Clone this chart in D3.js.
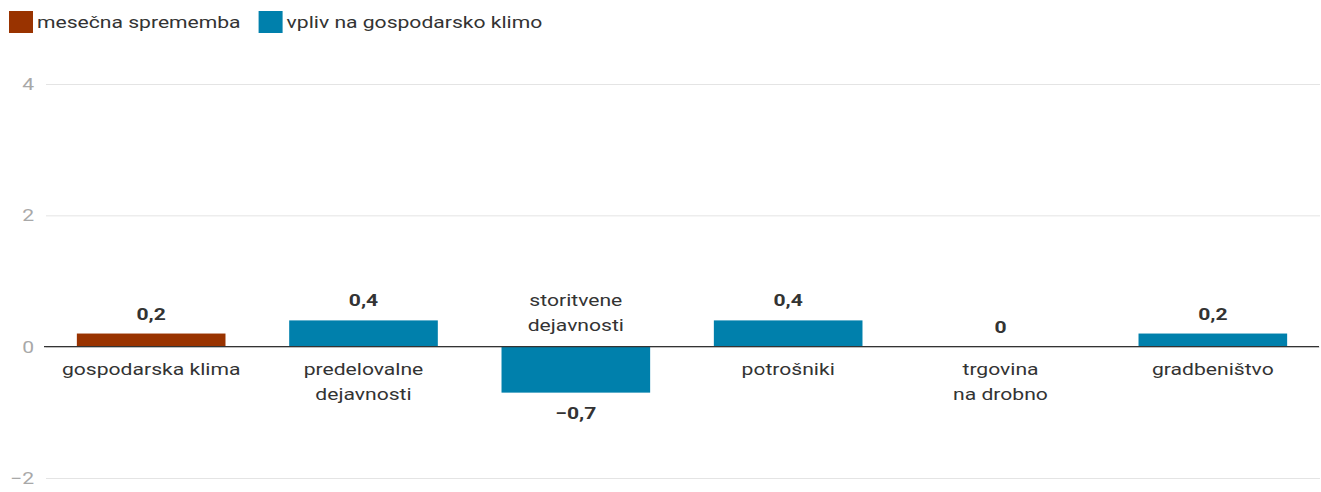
<!DOCTYPE html>
<html><head><meta charset="utf-8">
<script src="https://cdn.jsdelivr.net/npm/d3@7"></script>
<style>
body{margin:0;background:#fff;font-family:Roboto,"Noto Sans",sans-serif;}
svg{display:block;}
</style></head><body>
<svg id="c" width="1321" height="492"></svg>
<script>
const categories = [["gospodarska klima"],["predelovalne","dejavnosti"],["storitvene","dejavnosti"],["potrošniki"],["trgovina","na drobno"],["gradbeništvo"]];
const values = [0.2, 0.4, -0.7, 0.4, 0, 0.2];
const series = ["mesečna sprememba","vpliv na gospodarsko klimo"];
const seriesOf = [0,1,1,1,1,1];
const colors = ["#993300","#0080ac"];
const yTicks = [-2, 0, 2, 4];
const SX = 1.32; // horizontal text stretch seen in the reference

const svg = d3.select("#c");
const x = d3.scaleBand().domain(d3.range(values.length)).range([45,1319]).paddingInner(0.3).paddingOuter(0.15);
const y = d3.scaleLinear().domain([-2,4]).range([478,84]);
const fmt = v => v === 0 ? "0" : (v < 0 ? "\u2212" : "") + Math.abs(v).toFixed(1).replace(".", ",");

function stretchedText(parent, px, py, str, anchor, opts) {
  const g = parent.append("g").attr("transform", `translate(${px},${py}) scale(${SX},1)`);
  const t = g.append("text").attr("text-anchor", anchor).attr("fill", opts.fill || "#333")
    .style("font-size", (opts.size || 16) + "px").style("font-weight", opts.weight || "normal").text(str);
  return t;
}

// gridlines
const gy = svg.append("g").attr("transform","translate(46,0)")
  .call(d3.axisLeft(y).tickValues(yTicks).tickSize(-1274).tickFormat(""));
gy.select(".domain").remove();
gy.selectAll(".tick line").attr("stroke","#e4e4e4");
const tl = svg.append("g");
yTicks.forEach(v => stretchedText(tl, 34, y(v) + 6, v < 0 ? "\u2212" + Math.abs(v) : String(v), "end", {fill:"#a8a8a8", size:16}));

// bars
svg.append("g").selectAll("rect").data(values).join("rect")
  .attr("x",(d,i)=>x(i)).attr("width",x.bandwidth())
  .attr("y",d=>y(Math.max(0,d))).attr("height",d=>Math.abs(y(d)-y(0)))
  .attr("fill",(d,i)=>colors[seriesOf[i]]);

// zero line
svg.append("line").attr("x1",44).attr("x2",1319).attr("y1",y(0)).attr("y2",y(0))
  .attr("stroke","#333").attr("stroke-width",1.3);

// value labels
const vl = svg.append("g");
values.forEach((d,i) => stretchedText(vl, x(i)+x.bandwidth()/2, d<0 ? y(d)+26 : y(d)-14, fmt(d), "middle", {weight:"bold", size:16}));

// category labels
const cl = svg.append("g");
categories.forEach((lines,i) => {
  const base = values[i] < 0 ? y(0) - 41 : y(0) + 28;
  lines.forEach((s,j) => stretchedText(cl, x(i)+x.bandwidth()/2, base + j*25, s, "middle", {size:16}));
});

// legend
const leg = svg.append("g").attr("transform","translate(9,11)");
let lx = 0;
series.forEach((s,i)=>{
  leg.append("rect").attr("x",lx).attr("width",24).attr("height",22).attr("fill",colors[i]);
  const t = stretchedText(leg, lx+28, 17, s, "start", {size:16});
  lx += 28 + t.node().getComputedTextLength()*SX + 18;
});
</script></body></html>
